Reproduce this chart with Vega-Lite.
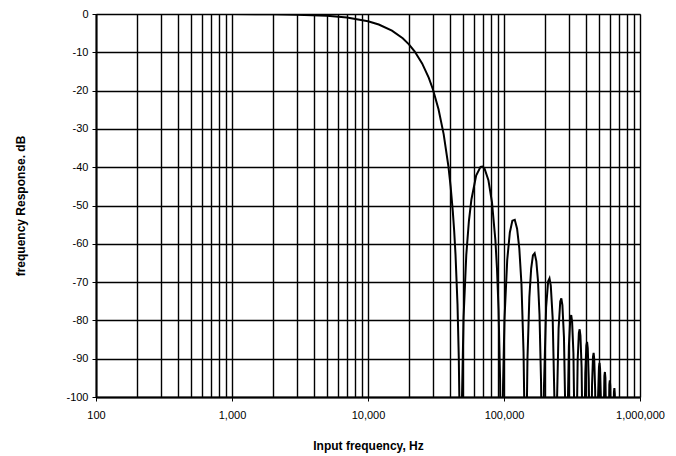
{
  "$schema": "https://vega.github.io/schema/vega-lite/v6.json",
  "width": 544,
  "height": 383,
  "autosize": {"type": "none"},
  "padding": {"left": 96, "top": 14, "right": 36, "bottom": 59},
  "background": "white",
  "config": {
    "view": {"stroke": "#888888", "strokeWidth": 1},
    "font": "Liberation Sans"
  },
  "data": {
    "values": [
      {"f": 100, "db": 0},
      {"f": 1000, "db": -0.02},
      {"f": 2000, "db": -0.07},
      {"f": 3000, "db": -0.17},
      {"f": 5000, "db": -0.47},
      {"f": 7000, "db": -0.92},
      {"f": 10000, "db": -1.89},
      {"f": 12000, "db": -2.74},
      {"f": 15000, "db": -4.33},
      {"f": 18000, "db": -6.34},
      {"f": 20000, "db": -7.92},
      {"f": 22000, "db": -9.73},
      {"f": 25000, "db": -12.89},
      {"f": 28000, "db": -16.69},
      {"f": 30000, "db": -19.65},
      {"f": 33000, "db": -24.88},
      {"f": 36000, "db": -31.37},
      {"f": 39000, "db": -39.74},
      {"f": 40500, "db": -45.0},
      {"f": 42000, "db": -51.39},
      {"f": 43000, "db": -56.54},
      {"f": 44000, "db": -62.79},
      {"f": 45500, "db": -75.73},
      {"f": 46500, "db": -89.53},
      {"f": 47200, "db": -106.3},
      {"f": 48000, "db": -130},
      {"f": 48960, "db": -102.5},
      {"f": 50400, "db": -79.44},
      {"f": 52800, "db": -62.91},
      {"f": 55200, "db": -54.05},
      {"f": 57600, "db": -48.43},
      {"f": 62400, "db": -42.19},
      {"f": 67200, "db": -39.91},
      {"f": 69600, "db": -39.83},
      {"f": 72000, "db": -40.39},
      {"f": 76800, "db": -43.39},
      {"f": 81600, "db": -49.18},
      {"f": 86400, "db": -59.0},
      {"f": 88800, "db": -66.44},
      {"f": 91200, "db": -77.15},
      {"f": 93600, "db": -95.57},
      {"f": 95040, "db": -119.8},
      {"f": 96000, "db": -130},
      {"f": 98400, "db": -96.87},
      {"f": 100800, "db": -79.76},
      {"f": 105600, "db": -64.22},
      {"f": 110400, "db": -57.05},
      {"f": 115200, "db": -53.95},
      {"f": 120000, "db": -53.71},
      {"f": 124800, "db": -56.04},
      {"f": 129600, "db": -61.23},
      {"f": 134400, "db": -70.51},
      {"f": 139200, "db": -88.17},
      {"f": 141600, "db": -106.4},
      {"f": 144000, "db": -130},
      {"f": 148800, "db": -89.91},
      {"f": 153600, "db": -73.99},
      {"f": 158400, "db": -66.46},
      {"f": 163200, "db": -63.03},
      {"f": 168000, "db": -62.47},
      {"f": 172800, "db": -64.52},
      {"f": 177600, "db": -69.44},
      {"f": 182400, "db": -78.47},
      {"f": 187200, "db": -95.89},
      {"f": 192000, "db": -130},
      {"f": 196800, "db": -97.2},
      {"f": 204000, "db": -76.56},
      {"f": 211200, "db": -69.75},
      {"f": 216000, "db": -69.02},
      {"f": 220800, "db": -70.91},
      {"f": 228000, "db": -79.46},
      {"f": 235200, "db": -101.84},
      {"f": 240000, "db": -130},
      {"f": 244800, "db": -102.9},
      {"f": 252000, "db": -82.07},
      {"f": 259200, "db": -75.08},
      {"f": 264000, "db": -74.25},
      {"f": 268800, "db": -76.03},
      {"f": 276000, "db": -84.44},
      {"f": 283200, "db": -106.7},
      {"f": 288000, "db": -130},
      {"f": 292800, "db": -107.5},
      {"f": 300000, "db": -86.61},
      {"f": 307200, "db": -79.51},
      {"f": 312000, "db": -78.6},
      {"f": 316800, "db": -80.31},
      {"f": 324000, "db": -88.62},
      {"f": 336000, "db": -130},
      {"f": 348000, "db": -90.48},
      {"f": 355200, "db": -83.29},
      {"f": 360000, "db": -82.33},
      {"f": 364800, "db": -83.99},
      {"f": 372000, "db": -92.22},
      {"f": 384000, "db": -130},
      {"f": 396000, "db": -93.85},
      {"f": 403200, "db": -86.6},
      {"f": 408000, "db": -85.59},
      {"f": 412800, "db": -87.21},
      {"f": 420000, "db": -95.38},
      {"f": 432000, "db": -130},
      {"f": 444000, "db": -96.83},
      {"f": 451200, "db": -89.53},
      {"f": 456000, "db": -88.49},
      {"f": 460800, "db": -90.08},
      {"f": 468000, "db": -98.2},
      {"f": 480000, "db": -130},
      {"f": 492000, "db": -99.5},
      {"f": 499200, "db": -92.16},
      {"f": 504000, "db": -91.1},
      {"f": 508800, "db": -92.66},
      {"f": 516000, "db": -100.74},
      {"f": 528000, "db": -130},
      {"f": 547200, "db": -94.55},
      {"f": 552000, "db": -93.47},
      {"f": 556800, "db": -95.01},
      {"f": 576000, "db": -130},
      {"f": 595200, "db": -96.74},
      {"f": 600000, "db": -95.64},
      {"f": 604800, "db": -97.16},
      {"f": 624000, "db": -130},
      {"f": 643200, "db": -98.77},
      {"f": 648000, "db": -97.65},
      {"f": 652800, "db": -99.15},
      {"f": 672000, "db": -130}
    ]
  },
  "mark": {"type": "line", "color": "black", "strokeWidth": 2, "clip": true},
  "encoding": {
    "x": {
      "field": "f",
      "type": "quantitative",
      "scale": {"type": "log", "domain": [100, 1000000], "nice": false},
      "axis": {
        "title": "Input frequency, Hz",
        "titleFont": "Liberation Sans",
        "titleFontSize": 12,
        "titleFontWeight": "bold",
        "titleColor": "black",
        "titlePadding": 20,
        "values": [100,200,300,400,500,600,700,800,900,1000,2000,3000,4000,5000,6000,7000,8000,9000,10000,20000,30000,40000,50000,60000,70000,80000,90000,100000,200000,300000,400000,500000,600000,700000,800000,900000,1000000],
        "format": ",",
        "labelExpr": "indexof([100,1000,10000,100000,1000000], datum.value) >= 0 ? datum.label : ''",
        "labelFont": "Liberation Sans",
        "labelFontSize": 11,
        "labelColor": "black",
        "labelPadding": 8,
        "labelFlush": false,
        "labelOverlap": false,
        "tickSize": 4,
        "tickColor": "black",
        "tickOpacity": {"condition": {"test": "indexof([100,1000,10000,100000,1000000], datum.value) >= 0", "value": 1}, "value": 0},
        "grid": true,
        "gridColor": "black",
        "gridWidth": 1.4,
        "gridOpacity": 1,
        "domainColor": "black",
        "domainWidth": 2
      }
    },
    "y": {
      "field": "db",
      "type": "quantitative",
      "scale": {"domain": [-100, 0], "nice": false},
      "axis": {
        "title": "frequency Response. dB",
        "titleFont": "Liberation Sans",
        "titleFontSize": 12,
        "titleFontWeight": "bold",
        "titleColor": "black",
        "titlePadding": 38,
        "values": [-100,-90,-80,-70,-60,-50,-40,-30,-20,-10,0],
        "labelExpr": "'' + datum.value",
        "labelFont": "Liberation Sans",
        "labelFontSize": 11,
        "labelColor": "black",
        "labelPadding": 4,
        "tickSize": 4,
        "tickColor": "black",
        "grid": true,
        "gridColor": "black",
        "gridWidth": 1.4,
        "gridOpacity": 1,
        "domainColor": "black",
        "domainWidth": 2
      }
    }
  }
}
